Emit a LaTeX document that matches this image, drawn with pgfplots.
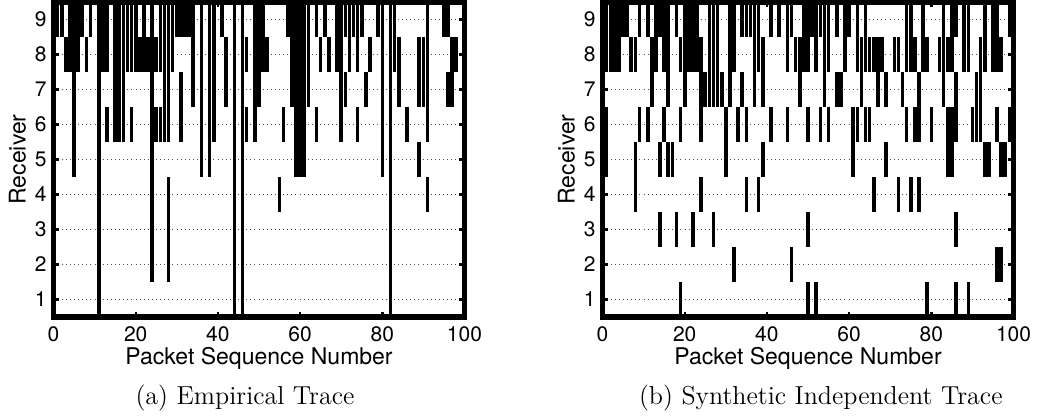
\documentclass[border=0pt]{standalone}
\usepackage{pgfplots}
\pgfplotsset{compat=1.18}
\usepackage{pgfplotstable}
\usepackage{fontspec}
\newfontfamily\helv{TeX Gyre Heros}

% Loss events: packet x lost at receiver y
\pgfplotstableread[row sep=\\]{
x y\\
0 9\\1 9\\2 9\\4 9\\5 9\\6 9\\7 9\\9 9\\11 9\\12 9\\13 9\\15 9\\16 9\\17 9\\18 9\\19 9\\20 9\\22 9\\24 9\\26 9\\27 9\\28 9\\29 9\\30 9\\31 9\\32 9\\33 9\\34 9\\36 9\\38 9\\39 9\\41 9\\44 9\\46 9\\49 9\\50 9\\51 9\\57 9\\58 9\\59 9\\60 9\\61 9\\62 9\\64 9\\66 9\\69 9\\70 9\\71 9\\72 9\\73 9\\74 9\\75 9\\79 9\\80 9\\82 9\\83 9\\91 9\\95 9\\96 9\\
0 8\\3 8\\4 8\\5 8\\6 8\\8 8\\11 8\\12 8\\13 8\\15 8\\16 8\\17 8\\18 8\\19 8\\20 8\\21 8\\22 8\\23 8\\24 8\\25 8\\26 8\\27 8\\28 8\\29 8\\34 8\\36 8\\38 8\\39 8\\42 8\\44 8\\46 8\\47 8\\49 8\\50 8\\51 8\\52 8\\58 8\\59 8\\60 8\\61 8\\62 8\\65 8\\67 8\\69 8\\70 8\\72 8\\74 8\\77 8\\80 8\\82 8\\83 8\\84 8\\89 8\\90 8\\91 8\\97 8\\98 8\\
5 7\\11 7\\15 7\\16 7\\17 7\\24 7\\27 7\\28 7\\31 7\\34 7\\36 7\\38 7\\39 7\\42 7\\44 7\\46 7\\49 7\\50 7\\58 7\\59 7\\60 7\\61 7\\62 7\\70 7\\71 7\\76 7\\80 7\\82 7\\84 7\\89 7\\90 7\\91 7\\96 7\\97 7\\
5 6\\11 6\\13 6\\15 6\\16 6\\17 6\\19 6\\24 6\\25 6\\26 6\\27 6\\28 6\\31 6\\36 6\\38 6\\39 6\\44 6\\46 6\\47 6\\49 6\\56 6\\59 6\\60 6\\61 6\\64 6\\70 6\\74 6\\80 6\\82 6\\86 6\\91 6\\
5 5\\11 5\\24 5\\36 5\\38 5\\44 5\\46 5\\59 5\\60 5\\61 5\\80 5\\82 5\\89 5\\
11 4\\24 4\\28 4\\44 4\\46 4\\55 4\\82 4\\91 4\\
11 3\\24 3\\28 3\\44 3\\46 3\\82 3\\
11 2\\24 2\\28 2\\44 2\\46 2\\82 2\\
11 1\\44 1\\46 1\\82 1\\
}\empirical

\pgfplotstableread[row sep=\\]{
x y\\
1 9\\2 9\\3 9\\4 9\\5 9\\6 9\\9 9\\11 9\\13 9\\14 9\\15 9\\16 9\\18 9\\20 9\\21 9\\22 9\\23 9\\26 9\\27 9\\28 9\\31 9\\32 9\\34 9\\35 9\\36 9\\37 9\\38 9\\41 9\\43 9\\45 9\\46 9\\49 9\\50 9\\51 9\\52 9\\53 9\\54 9\\55 9\\57 9\\59 9\\60 9\\62 9\\64 9\\74 9\\75 9\\78 9\\83 9\\85 9\\86 9\\88 9\\89 9\\93 9\\95 9\\96 9\\99 9\\
0 8\\1 8\\2 8\\3 8\\4 8\\7 8\\8 8\\12 8\\13 8\\15 8\\16 8\\19 8\\20 8\\21 8\\22 8\\23 8\\24 8\\26 8\\27 8\\28 8\\31 8\\32 8\\37 8\\38 8\\39 8\\45 8\\47 8\\48 8\\49 8\\50 8\\52 8\\54 8\\55 8\\59 8\\62 8\\63 8\\64 8\\65 8\\66 8\\67 8\\68 8\\71 8\\72 8\\74 8\\75 8\\76 8\\78 8\\79 8\\82 8\\83 8\\84 8\\85 8\\88 8\\89 8\\92 8\\93 8\\95 8\\96 8\\97 8\\
12 7\\16 7\\20 7\\24 7\\25 7\\26 7\\27 7\\28 7\\29 7\\31 7\\34 7\\37 7\\39 7\\48 7\\54 7\\57 7\\58 7\\63 7\\67 7\\69 7\\73 7\\77 7\\83 7\\86 7\\91 7\\92 7\\
1 6\\9 6\\11 6\\15 6\\19 6\\24 6\\30 6\\33 6\\35 6\\41 6\\45 6\\50 6\\53 6\\55 6\\61 6\\62 6\\64 6\\65 6\\74 6\\76 6\\77 6\\80 6\\84 6\\85 6\\86 6\\90 6\\91 6\\92 6\\96 6\\99 6\\
1 5\\8 5\\14 5\\16 5\\17 5\\30 5\\39 5\\61 5\\69 5\\84 5\\85 5\\93 5\\94 5\\97 5\\98 5\\
8 4\\24 4\\35 4\\38 4\\66 4\\72 4\\75 4\\77 4\\
14 3\\18 3\\22 3\\27 3\\50 3\\86 3\\
32 2\\46 2\\96 2\\97 2\\
19 1\\50 1\\52 1\\79 1\\86 1\\89 1\\
}\synthetic

\pgfplotsset{
  losspanel/.style={
    scale only axis, width=205.5pt, height=157.5pt,
    xmin=0, xmax=100, ymin=0.5, ymax=9.5,
    xtick={0,20,40,60,80,100}, ytick={1,2,3,4,5,6,7,8,9},
    tick align=inside, major tick length=2.6pt,
    tick style={line width=1.2pt, black},
    axis line style={line width=2.6pt, line cap=rect},
    ymajorgrids,
    grid style={line width=0.8pt, black!70, dash pattern=on 0.4pt off 1.65pt},
    /pgf/number format/assume math mode=true,
    tick label style={font=\helv\fontsize{10.5}{12}\selectfont},
    xticklabel style={yshift=-1.5pt},
    label style={font=\helv\fontsize{11.5}{13}\selectfont},
    xlabel={Packet Sequence Number},
    ylabel={Receiver},
    xlabel style={at={(axis description cs:0.5,-0.152)}, anchor=base},
    ylabel style={at={(axis description cs:-0.088,0.5)}, anchor=center},
  },
  lossbars/.style={
    draw=none, mark=none, forget plot,
    error bars/.cd, y dir=both, y fixed=0.5, error mark=none,
    error bar style={draw=black, line width=1.8pt, solid},
  },
}

\begin{document}
\begin{tikzpicture}
\useasboundingbox (0,0) rectangle (518.5pt,-209.5pt);

\begin{axis}[losspanel, at={(26.75pt,-158.5pt)}, anchor=south west]
  \addplot[lossbars] table[x=x, y=y] {\empirical};
\end{axis}
\node[anchor=base, font=\fontsize{13}{15}\selectfont] at (122.5pt,-202pt) {(a) Empirical Trace};

\begin{axis}[losspanel, at={(301.25pt,-158.5pt)}, anchor=south west]
  \addplot[lossbars] table[x=x, y=y] {\synthetic};
\end{axis}
\node[anchor=base, font=\fontsize{13}{15}\selectfont] at (410.4pt,-202pt) {(b) Synthetic Independent Trace};
\end{tikzpicture}
\end{document}
